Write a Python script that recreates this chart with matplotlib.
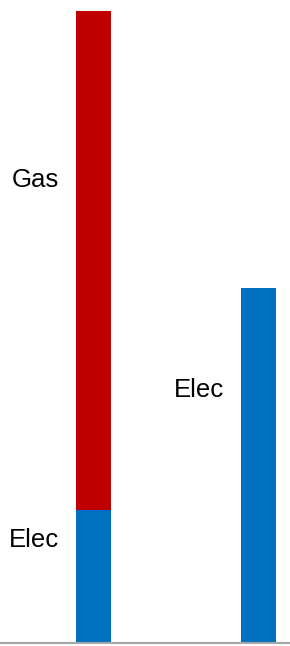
import matplotlib
matplotlib.use("Agg")
import matplotlib.pyplot as plt

categories = ["A", "B"]
elec = [133, 355]
gas = [499, 0]

BLUE = "#0070C0"
RED = "#C00000"

fig = plt.figure(figsize=(2.9, 6.46), dpi=100)
ax = fig.add_axes([0, 0, 1, 1])

px = 165.0  # pixels per category unit
x = [0, 1]
width = 35.5 / px
ax.bar(x, elec, width=width, color=BLUE, zorder=2)
ax.bar(x, gas, width=width, bottom=elec, color=RED, zorder=2)

ax.set_xlim(-93.3 / px, (290 - 93.3) / px)
ax.set_ylim(-3, 643)
ax.axhline(0, color="#A6A6A6", lw=1.5, zorder=3)
ax.axis("off")

font = dict(family=["Liberation Sans", "DejaVu Sans"], fontsize=18.5, color="black")
off = width / 2 + 16.5 / px
ax.text(x[0] - off, 643 - 186.7, "Gas", ha="right", va="baseline", **font)
ax.text(x[0] - off, 643 - 547.3, "Elec", ha="right", va="baseline", **font)
ax.text(x[1] - off, 643 - 397.3, "Elec", ha="right", va="baseline", **font)

fig.savefig("out.png", dpi=100)
